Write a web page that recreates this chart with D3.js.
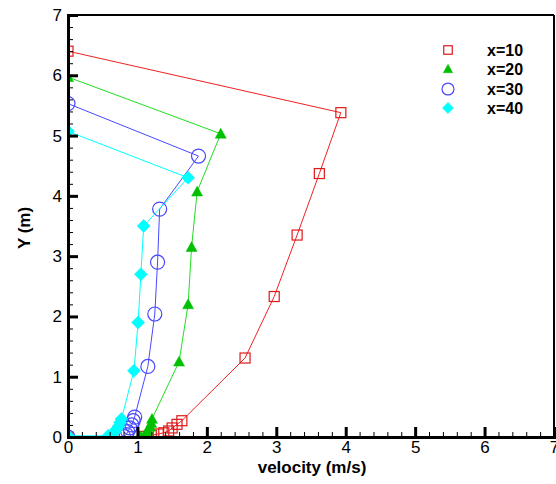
<!DOCTYPE html>
<html>
<head>
<meta charset="utf-8">
<script src="https://cdn.jsdelivr.net/npm/d3@7"></script>
<style>
html,body{margin:0;padding:0;background:#fff;}
svg{display:block;}
text{font-family:"Liberation Sans",Arial,sans-serif;}
</style>
</head>
<body>
<svg id="chart" width="556" height="484"></svg>
<script>
// ---- data ----
const seriesNames = ["x=10", "x=20", "x=30", "x=40"];
const vel10 = [0, 3.93, 3.62, 3.30, 2.97, 2.55, 1.64, 1.57, 1.50, 1.45, 1.38, 1.30, 1.20, 1.10, 0];
const y10   = [6.40, 5.38, 4.37, 3.35, 2.33, 1.31, 0.27, 0.21, 0.15, 0.10, 0.07, 0.05, 0.03, 0.01, 0];
const vel20 = [0, 2.20, 1.86, 1.78, 1.73, 1.60, 1.21, 1.20, 1.18, 1.15, 1.13, 1.10, 1.05, 0];
const y20   = [5.97, 5.03, 4.07, 3.15, 2.20, 1.25, 0.30, 0.23, 0.17, 0.12, 0.07, 0.03, 0.01, 0];
const vel30 = [0, 1.88, 1.32, 1.29, 1.25, 1.15, 0.96, 0.94, 0.92, 0.89, 0.86, 0.84, 0.80, 0];
const y30   = [5.53, 4.66, 3.78, 2.90, 2.04, 1.17, 0.33, 0.27, 0.20, 0.15, 0.09, 0.04, 0.01, 0];
const vel40 = [0, 1.73, 1.09, 1.05, 1.01, 0.95, 0.77, 0.75, 0.73, 0.70, 0.67, 0.63, 0.58, 0];
const y40   = [5.07, 4.30, 3.50, 2.70, 1.90, 1.10, 0.30, 0.24, 0.18, 0.13, 0.08, 0.04, 0.02, 0.02];
const xTicks = [0, 1, 2, 3, 4, 5, 6, 7];
const yTicks = [0, 1, 2, 3, 4, 5, 6, 7];
const xTitle = "velocity (m/s)";
const yTitle = "Y (m)";

const series = [
  {name: seriesNames[0], v: vel10, y: y10, line: "#ee2222", stroke: "#e01818", fill: "none", sym: "square"},
  {name: seriesNames[1], v: vel20, y: y20, line: "#22dd22", stroke: "#00c000", fill: "#00c000", sym: "triangle"},
  {name: seriesNames[2], v: vel30, y: y30, line: "#4848ff", stroke: "#4848ff", fill: "none", sym: "circle"},
  {name: seriesNames[3], v: vel40, y: y40, line: "#00ffff", stroke: "#00f0f0", fill: "#00ffff", sym: "diamond"}
];

const svg = d3.select("#chart");
const L = 68, R = 554, T = 15, B = 437;
const x = d3.scaleLinear().domain([0, 7]).range([L, R]);
const y = d3.scaleLinear().domain([0, 7]).range([B, T]);

svg.append("defs").append("clipPath").attr("id", "clip")
  .append("rect").attr("x", L).attr("y", T).attr("width", R - L).attr("height", B - T);

// symbol drawing
function drawSym(g, s, cx, cy, scale) {
  const k = scale || 1;
  if (s.sym === "square") {
    const h = 5 * k;
    g.append("rect").attr("x", cx - h).attr("y", cy - h).attr("width", 2 * h).attr("height", 2 * h)
      .attr("fill", "none").attr("stroke", s.stroke).attr("stroke-width", 1.2);
  } else if (s.sym === "triangle") {
    const h = 5.5 * k;
    g.append("path").attr("d", `M${cx},${cy - h}L${cx + h},${cy + h * 0.8}L${cx - h},${cy + h * 0.8}Z`)
      .attr("fill", s.fill).attr("stroke", s.stroke).attr("stroke-width", 0.5);
  } else if (s.sym === "circle") {
    g.append("circle").attr("cx", cx).attr("cy", cy).attr("r", 7 * k)
      .attr("fill", "none").attr("stroke", s.stroke).attr("stroke-width", 1.2);
  } else if (s.sym === "diamond") {
    const h = 6.5 * k;
    g.append("path").attr("d", `M${cx},${cy - h}L${cx + h},${cy}L${cx},${cy + h}L${cx - h},${cy}Z`)
      .attr("fill", s.fill).attr("stroke", s.stroke).attr("stroke-width", 0.5);
  }
}

// data (clipped to plot area)
const plot = svg.append("g").attr("clip-path", "url(#clip)");
const lineGen = d3.line().x(d => x(d[0])).y(d => y(d[1]));
series.forEach(s => {
  const pts = s.v.map((v, i) => [v, s.y[i]]);
  const g = plot.append("g");
  g.append("path").datum(pts).attr("d", lineGen).attr("fill", "none")
    .attr("stroke", s.line).attr("stroke-width", 1);
  pts.forEach(p => drawSym(g, s, x(p[0]), y(p[1]), 1));
});

// frame top/right
svg.append("line").attr("x1", L).attr("x2", R).attr("y1", T).attr("y2", T).attr("stroke", "#000").attr("stroke-width", 2);
svg.append("line").attr("x1", R).attr("x2", R).attr("y1", T).attr("y2", B).attr("stroke", "#000").attr("stroke-width", 2);

// minor ticks
const minor = d3.range(0, 7.001, 0.2).filter(d => Math.abs(d - Math.round(d)) > 1e-6);
const xMinor = svg.append("g").attr("transform", `translate(0,${B})`)
  .call(d3.axisBottom(x).tickValues(minor).tickSize(-5).tickFormat(""));
xMinor.select(".domain").remove();
const yMinor = svg.append("g").attr("transform", `translate(${L},0)`)
  .call(d3.axisLeft(y).tickValues(minor).tickSize(-5).tickFormat(""));
yMinor.select(".domain").remove();

// major axes
const xAxis = svg.append("g").attr("transform", `translate(0,${B})`)
  .call(d3.axisBottom(x).tickValues(xTicks).tickSize(-10).tickPadding(4).tickFormat(d3.format("d")));
xAxis.select(".domain").attr("stroke-width", 3);
xAxis.selectAll(".tick line").attr("stroke-width", 3);
xAxis.selectAll("text").attr("font-size", 17).attr("fill", "#000").attr("font-family", "Liberation Sans, Arial, sans-serif");

const yAxis = svg.append("g").attr("transform", `translate(${L},0)`)
  .call(d3.axisLeft(y).tickValues(yTicks).tickSize(-10).tickPadding(6).tickFormat(d3.format("d")));
yAxis.select(".domain").attr("stroke-width", 3);
yAxis.selectAll(".tick line").attr("stroke-width", 3);
yAxis.selectAll("text").attr("font-size", 17).attr("fill", "#000").attr("font-family", "Liberation Sans, Arial, sans-serif");

// titles
svg.append("text").attr("x", 312).attr("y", 473).attr("text-anchor", "middle")
  .attr("font-size", 17).attr("font-weight", "bold").text(xTitle);
svg.append("text").attr("transform", "translate(30,228) rotate(-90)").attr("text-anchor", "middle")
  .attr("font-size", 17).attr("font-weight", "bold").text(yTitle);

// legend
const leg = svg.append("g");
const legY = [50, 69, 89, 108];
series.forEach((s, i) => {
  drawSym(leg, s, 448, legY[i], 0.85);
  leg.append("text").attr("x", 487).attr("y", legY[i] + 6).attr("font-size", 16)
    .attr("font-weight", "bold").attr("fill", "#000").text(s.name);
});
</script>
</body>
</html>
